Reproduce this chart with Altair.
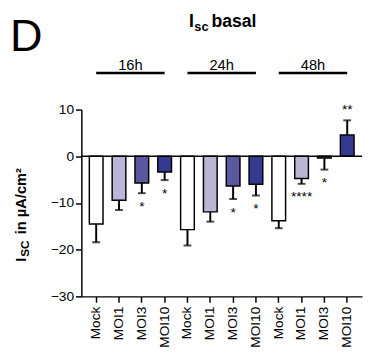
import altair as alt
import pandas as pd

times = ["16h", "24h", "48h"]
conditions = ["Mock", "MOI1", "MOI3", "MOI10"]
means = [-14.5, -9.4, -5.7, -3.35, -15.7, -11.9, -6.35, -6.0, -13.8, -4.75, -0.35, 4.55]
sems = [3.9, 2.1, 2.2, 1.75, 3.4, 2.1, 2.8, 2.4, 1.6, 1.15, 2.5, 3.15]
sig = ["", "", "*", "*", "", "", "*", "*", "", "****", "*", "**"]
colors = ["#ffffff", "#bdb5d8", "#5a58a0", "#363a8e"]

rows = []
i = 0
for t in times:
    for c in conditions:
        m = means[i]
        e = sems[i]
        end = m + e if m >= 0 else m - e
        rows.append({"key": f"{t}|{c}", "time": t, "cond": c, "mean": m,
                     "end": end, "sig": sig[i], "pos": m >= 0})
        i += 1
df = pd.DataFrame(rows)
order = list(df["key"])

FONT = "Liberation Sans"
W, H = 287, 191

xs = alt.Scale(domain=order, paddingInner=0.4, paddingOuter=0.35)
ys = alt.Scale(domain=[-30, 10], nice=False, zero=False)

X = alt.X("key:N", scale=xs, sort=order, title=None,
          axis=alt.Axis(labelExpr="split(datum.label, '|')[1]", labelAngle=-90,
                        labelAlign="right", labelBaseline="middle", labelFont=FONT,
                        labelFontSize=14, labelColor="#000", tickSize=6, tickWidth=1.5,
                        tickColor="#000", domainColor="#000", domainWidth=1.5,
                        labelPadding=4))
Y = alt.Y("mean:Q", scale=ys, title=None,
          axis=alt.Axis(values=[-30, -20, -10, 0, 10], labelFont=FONT, labelFontSize=14,
                        labelColor="#000", tickSize=6, tickWidth=1.5, tickColor="#000",
                        domainColor="#000", domainWidth=1.5, grid=False, labelPadding=2))

base = alt.Chart(df)

err = base.mark_rule(color="#000", strokeWidth=2).encode(x=X, y=Y, y2="end:Q")
cap = base.mark_tick(color="#000", thickness=2, size=8, orient="horizontal").encode(
    x=alt.X("key:N", scale=xs, sort=order), y=alt.Y("end:Q", scale=ys))

bars = base.mark_bar(stroke="#000", strokeWidth=1.5).encode(
    x=X, y=Y, y2=alt.datum(0),
    fill=alt.Color("cond:N", scale=alt.Scale(domain=conditions, range=colors), legend=None))

zero = alt.Chart(pd.DataFrame({"v": [0]})).mark_rule(color="#000", strokeWidth=1.5).encode(
    y=alt.Y("v:Q", scale=ys), x=alt.value(0), x2=alt.value(W))

stars_neg = base.transform_filter("!datum.pos").mark_text(
    font=FONT, fontSize=14, baseline="middle", dy=14, color="#000").encode(
    x=alt.X("key:N", scale=xs, sort=order), y=alt.Y("end:Q", scale=ys), text="sig:N")
stars_pos = base.transform_filter("datum.pos").mark_text(
    font=FONT, fontSize=14, baseline="middle", dy=-10, color="#000").encode(
    x=alt.X("key:N", scale=xs, sort=order), y=alt.Y("end:Q", scale=ys), text="sig:N")

# group bracket lines: from first to last condition of each time point
lrows = []
for t in times:
    lrows.append({"time": t, "key": f"{t}|{conditions[0]}"})
    lrows.append({"time": t, "key": f"{t}|{conditions[-1]}"})
ldf = pd.DataFrame(lrows)
glines = alt.Chart(ldf).mark_line(color="#000", strokeWidth=2.5, strokeCap="butt").encode(
    x=alt.X("key:N", scale=xs, sort=order), y=alt.value(-37.5), detail="time:N")

gdf = pd.DataFrame({"time": times, "mid": [f"{t}|{conditions[1]}" for t in times]})
step = W / (len(order) - 0.4 + 0.7)
glabels = alt.Chart(gdf).mark_text(font=FONT, fontSize=15, baseline="alphabetic",
                                   dx=step / 2, color="#000").encode(
    x=alt.X("mid:N", scale=xs, sort=order), y=alt.value(-40.5), text="time:N")

def txt(s, x, y, size, weight="normal", angle=0, align="left"):
    return alt.Chart(pd.DataFrame({"t": [s]})).mark_text(
        font=FONT, fontSize=size, fontWeight=weight, align=align, baseline="alphabetic",
        angle=angle, color="#000").encode(x=alt.value(x), y=alt.value(y), text="t:N")

annots = [
    txt("D", -73, -60, 46),
    txt("I", 110, -84.5, 18, "bold"),
    txt("sc", 115.5, -80, 13, "bold"),
    txt("basal", 133, -84.5, 18, "bold"),
    txt("I", -57, 155.5, 15, "bold", 270),
    txt("SC", -54, 150.5, 12, "bold", 270),
    txt("in µA/cm²", -57, 127.5, 15, "bold", 270),
]

chart = alt.layer(bars, err, cap, zero, stars_neg, stars_pos, glines, glabels, *annots).properties(
    width=W, height=H,
    autosize=alt.AutoSizeParams(type="none"),
    padding={"left": 75, "top": 100, "right": 2, "bottom": 54},
).configure_view(stroke=None)

chart.save("out.html", embed_options={"renderer": "svg", "actions": False})
